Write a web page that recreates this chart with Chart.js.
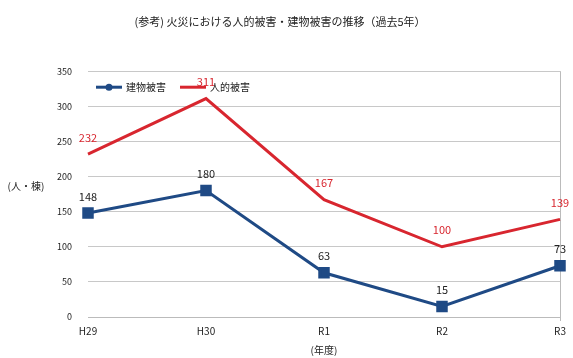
<!DOCTYPE html>
<html>
<head>
<meta charset="utf-8">
<script src="https://cdn.jsdelivr.net/npm/chart.js@4"></script>
<style>
  html, body { margin: 0; padding: 0; background: #fff; }
  #wrap { width: 573px; height: 358px; }
</style>
</head>
<body>
<div id="wrap"><canvas id="c" width="573" height="358"></canvas></div>
<script>
// 年度ごとの被害件数
const years = ['H29', 'H30', 'R1', 'R2', 'R3'];
const buildingDamage = [148, 180, 63, 15, 73];
const humanDamage = [232, 311, 167, 100, 139];
const yTicks = [0, 50, 100, 150, 200, 250, 300, 350];

const TITLE = '(参考) 火災における人的被害・建物被害の推移（過去5年）';
const FONT = '"Noto Sans CJK JP", "Noto Sans", sans-serif';
const BLUE = '#1f4a85';
const RED = '#d8262f';

// 値ラベル・凡例・軸タイトルをまとめて描く
const decorations = {
  id: 'decorations',
  afterDatasetsDraw(chart) {
    const { ctx, chartArea } = chart;
    ctx.save();
    ctx.textAlign = 'center';
    ctx.textBaseline = 'bottom';
    ctx.font = '11px ' + FONT;
    chart.data.datasets.forEach((ds, di) => {
      const meta = chart.getDatasetMeta(di);
      meta.data.forEach((pt, i) => {
        ctx.fillStyle = ds.labelColor;
        ctx.fillText(String(ds.data[i]), pt.x, pt.y - 11);
      });
    });

    // 凡例（線＋マーカー）
    let x = chartArea.left + 8, y = chartArea.top + 16;
    ctx.textAlign = 'left';
    ctx.textBaseline = 'middle';
    ctx.font = '10px ' + FONT;
    chart.data.datasets.forEach((ds) => {
      ctx.strokeStyle = ds.borderColor;
      ctx.lineWidth = 3;
      ctx.beginPath(); ctx.moveTo(x, y); ctx.lineTo(x + 26, y); ctx.stroke();
      if (ds.pointRadius > 0) {
        ctx.fillStyle = ds.borderColor;
        ctx.beginPath(); ctx.arc(x + 13, y, 3.5, 0, Math.PI * 2); ctx.fill();
      }
      ctx.fillStyle = '#222';
      ctx.fillText(ds.label, x + 30, y);
      x += 30 + ctx.measureText(ds.label).width + 14;
    });

    // 軸タイトル
    ctx.fillStyle = '#222';
    ctx.font = '10px ' + FONT;
    ctx.textAlign = 'center';
    ctx.fillText('(人・棟)', 26, 186);
    ctx.fillText('(年度)', (chartArea.left + chartArea.right) / 2, 350);
    ctx.restore();
  }
};

new Chart(document.getElementById('c'), {
  type: 'line',
  data: {
    labels: years,
    datasets: [
      {
        label: '建物被害',
        data: buildingDamage,
        borderColor: BLUE,
        backgroundColor: BLUE,
        labelColor: '#222',
        borderWidth: 3,
        pointStyle: 'rect',
        pointRadius: 6,
        tension: 0
      },
      {
        label: '人的被害',
        data: humanDamage,
        borderColor: RED,
        backgroundColor: RED,
        labelColor: RED,
        borderWidth: 3,
        pointRadius: 0,
        tension: 0
      }
    ]
  },
  options: {
    responsive: false,
    animation: false,
    layout: { padding: { top: 0, right: 13, bottom: 0, left: 0 } },
    plugins: {
      legend: { display: false },
      tooltip: { enabled: false },
      title: {
        display: true,
        text: TITLE,
        color: '#222',
        font: { size: 11, family: FONT, weight: 'normal' },
        padding: { top: 15, bottom: 43 }
      }
    },
    scales: {
      x: {
        offset: false,
        // 右端だけ縦線を引く
        grid: {
          color: (c) => c.index === years.length - 1 ? '#bbb' : 'transparent',
          drawTicks: true,
          tickLength: 4
        },
        border: { color: '#bbb' },
        ticks: { color: '#222', font: { size: 10, family: FONT }, padding: 4 },
        afterFit: (s) => { s.height = 41; }
      },
      y: {
        min: 0,
        max: 350,
        afterBuildTicks: (s) => { s.ticks = yTicks.map(v => ({ value: v })); },
        grid: { color: '#c8c8c8', drawTicks: false },
        border: { display: false },
        ticks: { color: '#222', font: { size: 9, family: FONT }, padding: 16 },
        afterFit: (s) => { s.width = 88; }
      }
    }
  },
  plugins: [decorations]
});
</script>
</body>
</html>
